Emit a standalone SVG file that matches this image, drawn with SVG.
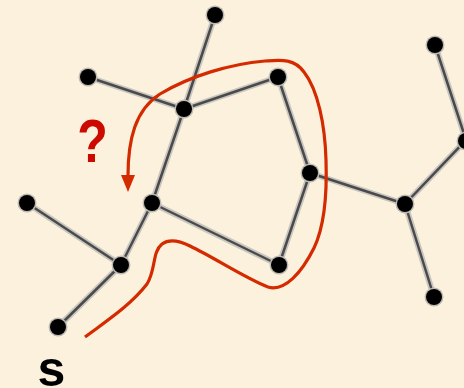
<svg xmlns="http://www.w3.org/2000/svg" width="464" height="388" viewBox="0 0 464 388">
<defs>
<style>
.halo{stroke:#c9c6c0;stroke-width:6;stroke-linecap:round;fill:none}
.core{stroke:#4a4a4a;stroke-width:2.5;stroke-linecap:round;fill:none}
.nh{fill:#bdbab4}
.n{fill:#000}
.path{stroke:#d42a00;stroke-width:3.2;fill:none;stroke-linecap:butt}
.lbl{font-family:"Liberation Sans",Arial,sans-serif;font-weight:bold}
</style>
</defs>
<rect width="464" height="388" fill="#fcf1dc"/>
<g id="connectors">
<g class="halo">
<line x1="215" y1="15" x2="184" y2="109"/>
<line x1="88" y1="77" x2="184" y2="109"/>
<line x1="184" y1="109" x2="278" y2="77"/>
<line x1="184" y1="109" x2="152" y2="203"/>
<line x1="278" y1="77" x2="310" y2="173"/>
<line x1="310" y1="173" x2="279" y2="265"/>
<line x1="152" y1="203" x2="279" y2="265"/>
<line x1="310" y1="173" x2="405" y2="204"/>
<line x1="405" y1="204" x2="466" y2="140"/>
<line x1="405" y1="204" x2="434" y2="297"/>
<line x1="435" y1="45" x2="466" y2="140"/>
<line x1="152" y1="203" x2="121" y2="265"/>
<line x1="27" y1="203" x2="121" y2="265"/>
<line x1="121" y1="265" x2="58" y2="327"/>
</g>
<g class="core">
<line x1="215" y1="15" x2="184" y2="109"/>
<line x1="88" y1="77" x2="184" y2="109"/>
<line x1="184" y1="109" x2="278" y2="77"/>
<line x1="184" y1="109" x2="152" y2="203"/>
<line x1="278" y1="77" x2="310" y2="173"/>
<line x1="310" y1="173" x2="279" y2="265"/>
<line x1="152" y1="203" x2="279" y2="265"/>
<line x1="310" y1="173" x2="405" y2="204"/>
<line x1="405" y1="204" x2="466" y2="140"/>
<line x1="405" y1="204" x2="434" y2="297"/>
<line x1="435" y1="45" x2="466" y2="140"/>
<line x1="152" y1="203" x2="121" y2="265"/>
<line x1="27" y1="203" x2="121" y2="265"/>
<line x1="121" y1="265" x2="58" y2="327"/>
</g>
</g>
<g id="n1"><circle class="nh" cx="215" cy="15" r="9.5"/><circle class="n" cx="215" cy="15" r="8"/></g>
<g id="n2"><circle class="nh" cx="88" cy="77" r="9.5"/><circle class="n" cx="88" cy="77" r="8"/></g>
<g id="n3"><circle class="nh" cx="184" cy="109" r="9.5"/><circle class="n" cx="184" cy="109" r="8"/></g>
<g id="n4"><circle class="nh" cx="278" cy="77" r="9.5"/><circle class="n" cx="278" cy="77" r="8"/></g>
<g id="n5"><circle class="nh" cx="310" cy="173" r="9.5"/><circle class="n" cx="310" cy="173" r="8"/></g>
<g id="n6"><circle class="nh" cx="435" cy="45" r="9.5"/><circle class="n" cx="435" cy="45" r="8"/></g>
<g id="n7"><circle class="nh" cx="466" cy="141" r="9.5"/><circle class="n" cx="466" cy="141" r="8"/></g>
<g id="n8"><circle class="nh" cx="405" cy="204" r="9.5"/><circle class="n" cx="405" cy="204" r="8"/></g>
<g id="n9"><circle class="nh" cx="434" cy="297" r="9.5"/><circle class="n" cx="434" cy="297" r="8"/></g>
<g id="n10"><circle class="nh" cx="279" cy="265" r="9.5"/><circle class="n" cx="279" cy="265" r="8"/></g>
<g id="n11"><circle class="nh" cx="152" cy="203" r="9.5"/><circle class="n" cx="152" cy="203" r="8"/></g>
<g id="n12"><circle class="nh" cx="27" cy="203" r="9.5"/><circle class="n" cx="27" cy="203" r="8"/></g>
<g id="n13"><circle class="nh" cx="121" cy="265" r="9.5"/><circle class="n" cx="121" cy="265" r="8"/></g>
<g id="n14"><circle class="nh" cx="58" cy="327" r="9.5"/><circle class="n" cx="58" cy="327" r="8"/></g>
<g id="route">
<path class="path" d="M85,337 C105,322 130,306 147,284 C156,270 152,252 162,244 C170,238 180,241 190,246 C215,258 245,278 268,287 C285,292 302,272 314,248 C325,225 327,190 326,160 C325,125 318,90 304,72 C294,58 280,60 265,61 C230,64 190,76 160,94 C135,110 128,140 128,176"/>
<path d="M121,175 L135,175 L128,192 Z" fill="#d42a00"/>
</g>
<text class="lbl" transform="translate(92.5,162) scale(0.82,1)" text-anchor="middle" font-size="61" fill="#cc0a00">?</text>
<text class="lbl" x="51.5" y="386" text-anchor="middle" font-size="50" fill="#000">s</text>
</svg>
